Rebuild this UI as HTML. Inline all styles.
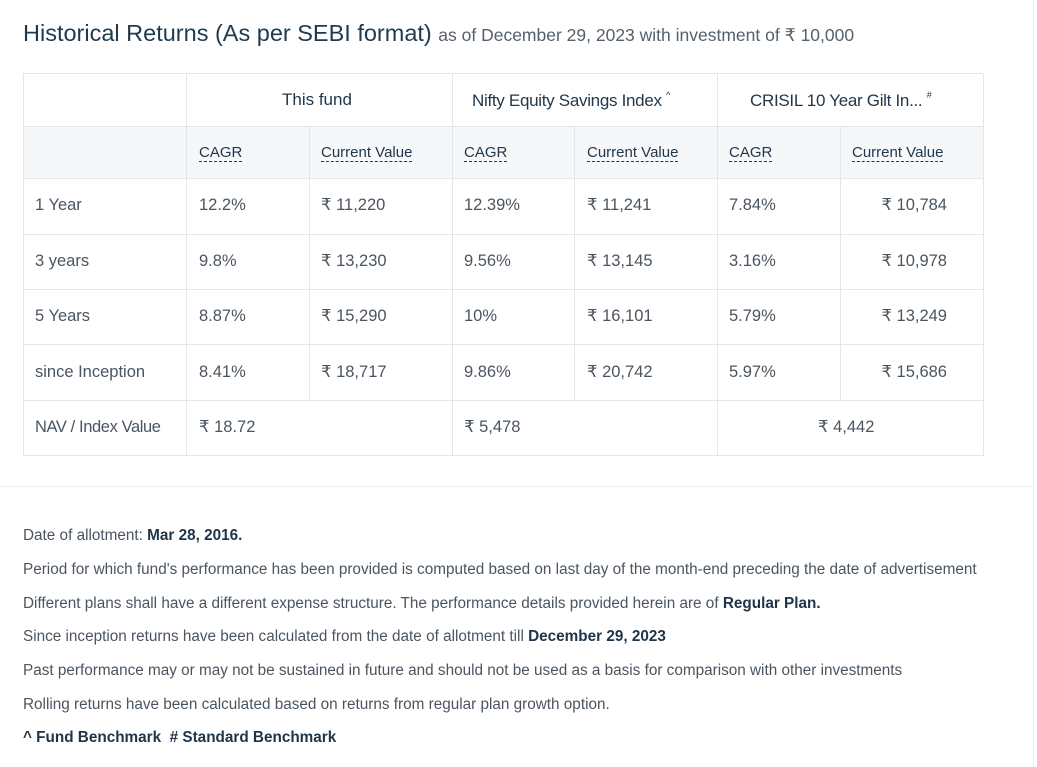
<!DOCTYPE html>
<html><head><meta charset="utf-8"><style>
body{margin:0;width:1037px;height:767px;background:#fff;position:relative;overflow:hidden;font-family:"Liberation Sans",sans-serif;color:#4a5560}
.a{position:absolute;white-space:nowrap;line-height:20px}
.h{position:absolute;background:#e3e7ea;height:1px}
.v{position:absolute;background:#e3e7ea;width:1px}
.t{font-size:16.5px;color:#4a5560}
.hd{font-size:17px;color:#22384a}
.sp{font-size:9px;position:relative;top:-8px;vertical-align:baseline;line-height:0}
.sh{font-size:15px;color:#22384a;border-bottom:1.5px dashed #22384a;line-height:17px}
.f{font-size:15.3px;color:#4a5560;left:23px}
.f b{color:#1f3447}
</style></head><body>
<div class="a" style="left:23px;top:20px;font-size:23.5px;line-height:26px;color:#1f3a4d">Historical Returns (As per SEBI format) <span style="font-size:17.5px;color:#55606a">as of December 29, 2023 with investment of ₹ 10,000</span></div>

<div class="a" style="left:23px;top:126px;width:960px;height:52px;background:#f5f7f9"></div>
<div class="h" style="left:23px;top:73px;width:961px"></div>
<div class="h" style="left:23px;top:126px;width:961px"></div>
<div class="h" style="left:23px;top:178px;width:961px"></div>
<div class="h" style="left:23px;top:234px;width:961px"></div>
<div class="h" style="left:23px;top:289px;width:961px"></div>
<div class="h" style="left:23px;top:344px;width:961px"></div>
<div class="h" style="left:23px;top:400px;width:961px"></div>
<div class="h" style="left:23px;top:455px;width:961px"></div>
<div class="v" style="left:23px;top:73px;height:383px"></div>
<div class="v" style="left:186px;top:73px;height:383px"></div>
<div class="v" style="left:452px;top:73px;height:383px"></div>
<div class="v" style="left:717px;top:73px;height:383px"></div>
<div class="v" style="left:983px;top:73px;height:383px"></div>
<div class="v" style="left:309px;top:126px;height:274px"></div>
<div class="v" style="left:574px;top:126px;height:274px"></div>
<div class="v" style="left:840px;top:126px;height:274px"></div>
<div class="h" style="left:0;top:486px;width:1033px;background:#eceef0"></div>
<div class="v" style="left:1033px;top:0;height:767px;background:#eceef0"></div>

<div class="a hd" style="left:282px;top:90px">This fund</div>
<div class="a hd" style="left:472px;top:91px;letter-spacing:-0.3px">Nifty Equity Savings Index <span class="sp">^</span></div>
<div class="a hd" style="left:750px;top:91px;letter-spacing:-0.3px">CRISIL 10 Year Gilt In... <span class="sp">#</span></div>

<div class="a sh" style="left:199px;top:144px">CAGR</div>
<div class="a sh" style="left:321px;top:144px">Current Value</div>
<div class="a sh" style="left:464px;top:144px">CAGR</div>
<div class="a sh" style="left:587px;top:144px">Current Value</div>
<div class="a sh" style="left:729px;top:144px">CAGR</div>
<div class="a sh" style="left:852px;top:144px">Current Value</div>

<div class="a t" style="left:35px;top:195px">1 Year</div>
<div class="a t" style="left:199px;top:195px">12.2%</div>
<div class="a t" style="left:321px;top:195px">₹ 11,220</div>
<div class="a t" style="left:464px;top:195px">12.39%</div>
<div class="a t" style="left:587px;top:195px">₹ 11,241</div>
<div class="a t" style="left:729px;top:195px">7.84%</div>
<div class="a t" style="right:90px;top:195px">₹ 10,784</div>

<div class="a t" style="left:35px;top:251px">3 years</div>
<div class="a t" style="left:199px;top:251px">9.8%</div>
<div class="a t" style="left:321px;top:251px">₹ 13,230</div>
<div class="a t" style="left:464px;top:251px">9.56%</div>
<div class="a t" style="left:587px;top:251px">₹ 13,145</div>
<div class="a t" style="left:729px;top:251px">3.16%</div>
<div class="a t" style="right:90px;top:251px">₹ 10,978</div>

<div class="a t" style="left:35px;top:306px">5 Years</div>
<div class="a t" style="left:199px;top:306px">8.87%</div>
<div class="a t" style="left:321px;top:306px">₹ 15,290</div>
<div class="a t" style="left:464px;top:306px">10%</div>
<div class="a t" style="left:587px;top:306px">₹ 16,101</div>
<div class="a t" style="left:729px;top:306px">5.79%</div>
<div class="a t" style="right:90px;top:306px">₹ 13,249</div>

<div class="a t" style="left:35px;top:362px">since Inception</div>
<div class="a t" style="left:199px;top:362px">8.41%</div>
<div class="a t" style="left:321px;top:362px">₹ 18,717</div>
<div class="a t" style="left:464px;top:362px">9.86%</div>
<div class="a t" style="left:587px;top:362px">₹ 20,742</div>
<div class="a t" style="left:729px;top:362px">5.97%</div>
<div class="a t" style="right:90px;top:362px">₹ 15,686</div>

<div class="a t" style="left:35px;top:417px;letter-spacing:-0.4px">NAV / Index Value</div>
<div class="a t" style="left:199px;top:417px">₹ 18.72</div>
<div class="a t" style="left:464px;top:417px">₹ 5,478</div>
<div class="a t" style="left:818px;top:417px">₹ 4,442</div>

<div class="a f" style="top:526px">Date of allotment: <b>Mar 28, 2016.</b></div>
<div class="a f" style="top:560px">Period for which fund's performance has been provided is computed based on last day of the month-end preceding the date of advertisement</div>
<div class="a f" style="top:594px">Different plans shall have a different expense structure. The performance details provided herein are of <b>Regular Plan.</b></div>
<div class="a f" style="top:627px">Since inception returns have been calculated from the date of allotment till <b>December 29, 2023</b></div>
<div class="a f" style="top:661px">Past performance may or may not be sustained in future and should not be used as a basis for comparison with other investments</div>
<div class="a f" style="top:695px">Rolling returns have been calculated based on returns from regular plan growth option.</div>
<div class="a f" style="top:728px"><b>^ Fund Benchmark &nbsp;# Standard Benchmark</b></div>
</body></html>
